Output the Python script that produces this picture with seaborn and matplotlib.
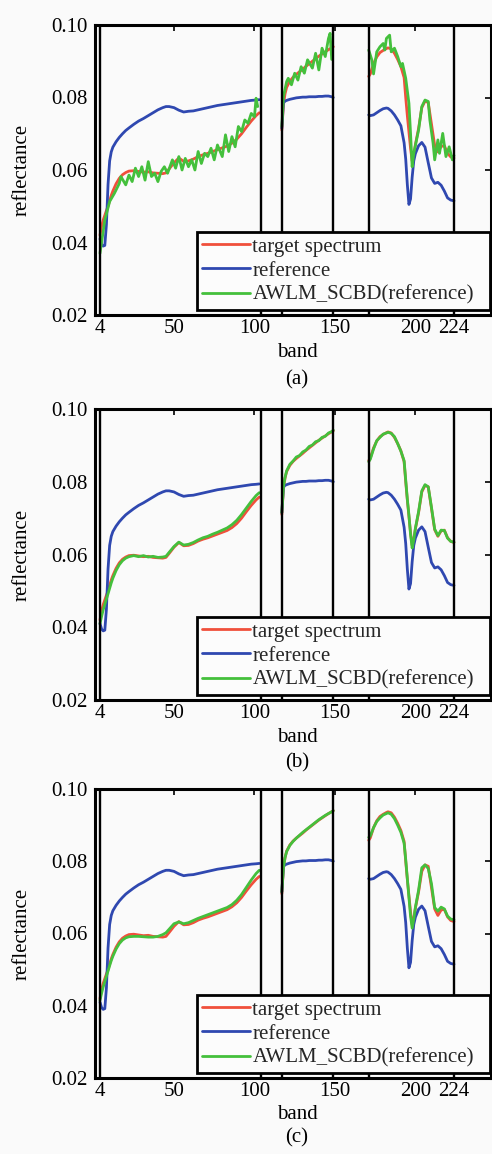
import matplotlib
matplotlib.use("Agg")
import matplotlib.pyplot as plt
from matplotlib.lines import Line2D
import numpy as np
import pandas as pd
import seaborn as sns

# ---------------- data ----------------
LABELS = ["target spectrum", "reference", "AWLM_SCBD(reference)"]
XTICKS = [4, 50, 100, 150, 200, 224]
YTICKS = [0.02, 0.04, 0.06, 0.08, 0.10]
BOUNDARIES = [4, 104, 117, 149, 171, 224]
PANEL_TAGS = ["(a)", "(b)", "(c)"]

bands_s1 = [4, 5, 6, 7, 8, 9, 10, 11, 12, 14, 16, 18, 20, 22, 25, 28, 31, 34, 37, 40, 43,
            45, 47, 50, 53, 56, 59, 62, 65, 68, 71, 74, 77, 80, 83, 86, 89, 92, 95, 98, 101, 103]
bands_s2 = [117, 118, 119, 120, 122, 124, 126, 128, 130, 132, 134, 136, 138, 140, 142, 144, 146, 148, 149]
bands_s3 = [171, 172, 174, 176, 178, 180, 182, 183, 185, 187, 189, 191, 193, 194, 195, 196,
            197, 198, 199, 200, 202, 204, 206, 208, 210, 212, 214, 216, 218, 220, 222, 224]

target_s1 = [0.0420, 0.0445, 0.0462, 0.0475, 0.0488, 0.0500, 0.0515, 0.0530, 0.0542, 0.0562, 0.0577,
             0.0587, 0.0593, 0.0597, 0.0598, 0.0596, 0.0594, 0.0595, 0.0592, 0.0591, 0.0590,
             0.0592, 0.0603, 0.0620, 0.0633, 0.0624, 0.0625, 0.0630, 0.0637, 0.0642, 0.0646,
             0.0651, 0.0656, 0.0661, 0.0666, 0.0674, 0.0685, 0.0700, 0.0718, 0.0735, 0.0750, 0.0758]
target_s2 = [0.0710, 0.0780, 0.0810, 0.0828, 0.0845, 0.0856, 0.0864, 0.0871, 0.0878, 0.0886,
             0.0893, 0.0900, 0.0907, 0.0914, 0.0920, 0.0926, 0.0932, 0.0937, 0.0940]
target_s3 = [0.0858, 0.0865, 0.0893, 0.0912, 0.0924, 0.0930, 0.0935, 0.0937, 0.0934, 0.0922, 0.0905,
             0.0885, 0.0855, 0.0800, 0.0750, 0.0705, 0.0660, 0.0625, 0.0640, 0.0670, 0.0715,
             0.0772, 0.0790, 0.0786, 0.0727, 0.0668, 0.0650, 0.0665, 0.0667, 0.0646, 0.0636, 0.0633]

reference_s1 = [0.0410, 0.0395, 0.0390, 0.0392, 0.0450, 0.0560, 0.0625, 0.0650, 0.0663, 0.0678, 0.0690,
                0.0700, 0.0709, 0.0716, 0.0726, 0.0735, 0.0742, 0.0750, 0.0758, 0.0766, 0.0772,
                0.0775, 0.0775, 0.0772, 0.0765, 0.0760, 0.0762, 0.0763, 0.0766, 0.0769, 0.0772,
                0.0775, 0.0778, 0.0780, 0.0782, 0.0784, 0.0786, 0.0788, 0.0790, 0.0792, 0.0793, 0.0794]
reference_s2 = [0.0715, 0.0785, 0.0790, 0.0792, 0.0795, 0.0797, 0.0799, 0.0800, 0.0801, 0.0801,
                0.0802, 0.0802, 0.0802, 0.0803, 0.0803, 0.0804, 0.0804, 0.0802, 0.0800]
reference_s3 = [0.0752, 0.0750, 0.0752, 0.0758, 0.0764, 0.0769, 0.0771, 0.0770, 0.0763, 0.0752, 0.0738,
                0.0722, 0.0675, 0.0630, 0.0560, 0.0505, 0.0520, 0.0580, 0.0625, 0.0645, 0.0667,
                0.0676, 0.0663, 0.0620, 0.0578, 0.0563, 0.0566, 0.0558, 0.0542, 0.0523, 0.0517, 0.0515]

# AWLM_SCBD, panel (a): noisy, own band grid
bands_a_s1 = [4, 7, 10, 13, 16, 17, 20, 22, 24, 26, 28, 30, 32, 34, 36, 38, 40, 42, 44, 46, 49, 51,
              53, 55, 57, 59, 61, 63, 65, 67, 69, 71, 73, 75, 77, 80, 82, 84, 86, 88, 90, 92, 94,
              96, 98, 100, 101, 102]
awlm_a_s1 = [0.0370, 0.0462, 0.0513, 0.0536, 0.0563, 0.0582, 0.0559, 0.0586, 0.0568, 0.0605, 0.0582,
             0.0609, 0.0572, 0.0623, 0.0582, 0.0591, 0.0568, 0.0596, 0.0609, 0.0591, 0.0628, 0.0605,
             0.0637, 0.0600, 0.0632, 0.0609, 0.0628, 0.0600, 0.0651, 0.0618, 0.0646, 0.0637, 0.0660,
             0.0628, 0.0669, 0.0637, 0.0697, 0.0651, 0.0692, 0.0664, 0.0720, 0.0706, 0.0738, 0.0729,
             0.0756, 0.0747, 0.0798, 0.0775]
bands_a_s2 = [117, 118, 120, 121, 123, 125, 127, 129, 131, 133, 136, 138, 140, 142, 144, 146, 147, 148]
awlm_a_s2 = [0.0720, 0.0802, 0.0844, 0.0853, 0.0835, 0.0867, 0.0848, 0.0885, 0.0867, 0.0904, 0.0881,
             0.0922, 0.0876, 0.0936, 0.0913, 0.0963, 0.0977, 0.0905]
bands_a_s3 = [171, 173, 174, 176, 178, 180, 181, 182, 184, 185, 187, 189, 191, 192, 194, 196, 197, 198,
              199, 202, 204, 206, 208, 209, 211, 212, 214, 215, 217, 219, 221, 223, 224]
awlm_a_s3 = [0.0931, 0.0903, 0.0865, 0.0926, 0.0940, 0.0949, 0.0931, 0.0963, 0.0972, 0.0926, 0.0936,
             0.0913, 0.0885, 0.0894, 0.0853, 0.0784, 0.0701, 0.0609, 0.0646, 0.0710, 0.0775, 0.0793,
             0.0789, 0.0738, 0.0674, 0.0628, 0.0683, 0.0646, 0.0701, 0.0637, 0.0664, 0.0628, 0.0640]

# AWLM_SCBD, panel (b)
awlm_b_s1 = [0.0410, 0.0430, 0.0448, 0.0463, 0.0478, 0.0492, 0.0507, 0.0522, 0.0535, 0.0556, 0.0572,
             0.0583, 0.0590, 0.0594, 0.0597, 0.0594, 0.0597, 0.0593, 0.0595, 0.0592, 0.0593,
             0.0595, 0.0606, 0.0622, 0.0634, 0.0626, 0.0628, 0.0633, 0.0640, 0.0646, 0.0650,
             0.0656, 0.0661, 0.0667, 0.0673, 0.0682, 0.0694, 0.0710, 0.0728, 0.0746, 0.0762, 0.0770]
awlm_b_s2 = [0.0715, 0.0785, 0.0812, 0.0830, 0.0848, 0.0857, 0.0868, 0.0872, 0.0882, 0.0887,
             0.0897, 0.0901, 0.0910, 0.0913, 0.0922, 0.0925, 0.0934, 0.0938, 0.0942]
awlm_b_s3 = [0.0855, 0.0862, 0.0890, 0.0913, 0.0922, 0.0931, 0.0934, 0.0936, 0.0933, 0.0924, 0.0905,
             0.0884, 0.0858, 0.0805, 0.0752, 0.0708, 0.0655, 0.0618, 0.0640, 0.0672, 0.0718,
             0.0775, 0.0792, 0.0786, 0.0730, 0.0670, 0.0652, 0.0667, 0.0666, 0.0645, 0.0636, 0.0634]

# AWLM_SCBD, panel (c)
awlm_c_s1 = [0.0415, 0.0435, 0.0452, 0.0467, 0.0482, 0.0496, 0.0511, 0.0525, 0.0537, 0.0557, 0.0572,
             0.0582, 0.0588, 0.0591, 0.0592, 0.0592, 0.0591, 0.0590, 0.0590, 0.0592, 0.0597,
             0.0602, 0.0612, 0.0627, 0.0632, 0.0627, 0.0630, 0.0636, 0.0642, 0.0647, 0.0652,
             0.0657, 0.0662, 0.0667, 0.0672, 0.0680, 0.0692, 0.0708, 0.0728, 0.0748, 0.0766, 0.0775]
awlm_c_s2 = [0.0715, 0.0782, 0.0810, 0.0827, 0.0844, 0.0855, 0.0864, 0.0872, 0.0880, 0.0887,
             0.0894, 0.0901, 0.0908, 0.0915, 0.0921, 0.0927, 0.0932, 0.0937, 0.0940]
awlm_c_s3 = [0.0866, 0.0870, 0.0893, 0.0910, 0.0920, 0.0928, 0.0932, 0.0934, 0.0930, 0.0918, 0.0900,
             0.0880, 0.0850, 0.0805, 0.0752, 0.0700, 0.0648, 0.0615, 0.0640, 0.0672, 0.0720,
             0.0782, 0.0790, 0.0780, 0.0738, 0.0672, 0.0662, 0.0673, 0.0668, 0.0648, 0.0640, 0.0638]

# ---------------- style ----------------
RED = "#f0503c"
BLUE = "#2f48b0"
GREEN = "#44c03c"
BG = "#fafafa"
FS = 15

sns.set_theme(style="white")
plt.rcParams["font.family"] = ["Liberation Serif", "DejaVu Serif"]


def long_frame(series_label, segs):
    rows = []
    for k, (b, v) in enumerate(segs):
        df = pd.DataFrame({"band": b, "value": v})
        df["series"] = series_label
        df["seg"] = k
        rows.append(df)
    return pd.concat(rows, ignore_index=True)


target_df = long_frame(LABELS[0], [(bands_s1, target_s1), (bands_s2, target_s2), (bands_s3, target_s3)])
ref_df = long_frame(LABELS[1], [(bands_s1, reference_s1), (bands_s2, reference_s2), (bands_s3, reference_s3)])
awlm_frames = [
    long_frame(LABELS[2], [(bands_a_s1, awlm_a_s1), (bands_a_s2, awlm_a_s2), (bands_a_s3, awlm_a_s3)]),
    long_frame(LABELS[2], [(bands_s1, awlm_b_s1), (bands_s2, awlm_b_s2), (bands_s3, awlm_b_s3)]),
    long_frame(LABELS[2], [(bands_s1, awlm_c_s1), (bands_s2, awlm_c_s2), (bands_s3, awlm_c_s3)]),
]

palette = {LABELS[0]: RED, LABELS[1]: BLUE, LABELS[2]: GREEN}

W, H = 492, 1154
fig = plt.figure(figsize=(W / 100, H / 100), dpi=100, facecolor=BG)

# axes boxes in pixels: (top, bottom)
boxes = [(25, 315), (409, 700), (789, 1078)]
left_px, right_px = 95, 491
tag_y = [380, 763, 1138]

for i, ((top, bot), awlm_df) in enumerate(zip(boxes, awlm_frames)):
    ax = fig.add_axes([left_px / W, 1 - bot / H, (right_px - left_px) / W, (bot - top) / H])
    ax.set_facecolor(BG)
    df = pd.concat([target_df, ref_df, awlm_df], ignore_index=True)
    sns.lineplot(data=df, x="band", y="value", hue="series", units="seg", estimator=None,
                 hue_order=LABELS, palette=palette, linewidth=2.0, sort=False,
                 legend=False, ax=ax)
    for b in BOUNDARIES:
        ax.axvline(b, color="black", lw=1.7, zorder=5)

    ax.set_xlim(0.9, 247)
    ax.set_ylim(0.02, 0.10)
    ax.set_xticks(XTICKS)
    ax.set_xticklabels([str(t) for t in XTICKS])
    ax.set_yticks(YTICKS)
    ax.set_yticklabels([f"{t:.2f}" for t in YTICKS])
    ax.tick_params(direction="in", length=4, width=1.2, top=True, right=True,
                   labelsize=FS, colors="black", pad=5)
    ax.tick_params(axis="x", pad=3)
    for s in ax.spines.values():
        s.set_visible(True)
        s.set_color("black")
        s.set_linewidth(2.2)

    ax.set_xlabel("band", fontsize=FS, color="black")
    ax.set_ylabel("reflectance", fontsize=FS, color="black")
    ax.xaxis.set_label_coords(0.51, -0.095)
    ax.yaxis.set_label_coords(-0.16, 0.5)

    handles = [Line2D([], [], color=c, lw=2.0) for c in (RED, BLUE, GREEN)]
    leg = ax.legend(handles, LABELS, loc="lower left",
                    bbox_to_anchor=(0.258, 0.017, 0.739, 0.28), mode="expand",
                    borderaxespad=0, frameon=True, fancybox=False, edgecolor="black",
                    facecolor="#fcfcfc", framealpha=1, handlelength=2.3, handletextpad=0.1,
                    labelspacing=0.22, borderpad=0.25, fontsize=FS)
    leg.get_frame().set_linewidth(2.0)
    leg.set_zorder(10)

    fig.text(297 / W, 1 - tag_y[i] / H, PANEL_TAGS[i], ha="center", va="center",
             fontsize=FS, color="black")

fig.savefig("out.png", dpi=100, facecolor=BG)
